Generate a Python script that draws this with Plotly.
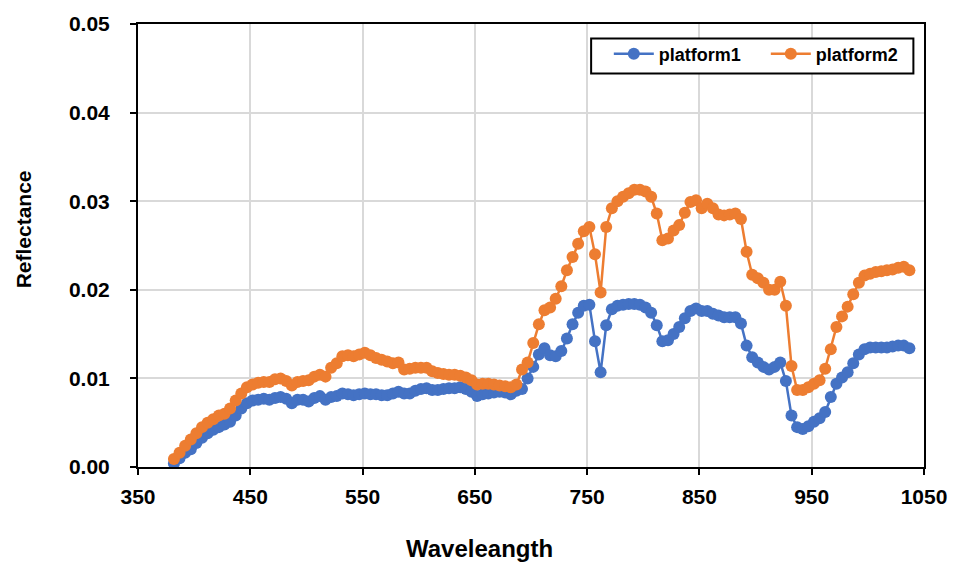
import plotly.graph_objects as go

# Wavelength sampling grid (nm), 5 nm steps
wavelength = [
    382, 387, 392, 397, 402, 407, 412, 417, 422, 427,
    432, 437, 442, 447, 452, 457, 462, 467, 472, 477,
    482, 487, 492, 497, 502, 507, 512, 517, 522, 527,
    532, 537, 542, 547, 552, 557, 562, 567, 572, 577,
    582, 587, 592, 597, 602, 607, 612, 617, 622, 627,
    632, 637, 642, 647, 652, 657, 662, 667, 672, 677,
    682, 687, 692, 697, 702, 707, 712, 717, 722, 727,
    732, 737, 742, 747, 752, 757, 762, 767, 772, 777,
    782, 787, 792, 797, 802, 807, 812, 817, 822, 827,
    832, 837, 842, 847, 852, 857, 862, 867, 872, 877,
    882, 887, 892, 897, 902, 907, 912, 917, 922, 927,
    932, 937, 942, 947, 952, 957, 962, 967, 972, 977,
    982, 987, 992, 997, 1002, 1007, 1012, 1017, 1022, 1027,
    1032, 1037,
]

platform1 = [
    0.0004, 0.0010, 0.0016, 0.0020, 0.0027, 0.0033, 0.0038, 0.0042, 0.0045, 0.0048,
    0.0051, 0.0058, 0.0066, 0.0072, 0.0075, 0.0076, 0.0077, 0.0076, 0.0078, 0.0079,
    0.0077, 0.0072, 0.0076, 0.0076, 0.0074, 0.0078, 0.0080, 0.0076, 0.0079, 0.0080,
    0.0083, 0.0082, 0.0081, 0.0082, 0.0083, 0.0082, 0.0082, 0.0081, 0.0081, 0.0083,
    0.0085, 0.0083, 0.0083, 0.0086, 0.0088, 0.0089, 0.0087, 0.0087, 0.0088, 0.0089,
    0.0089, 0.0090, 0.0088, 0.0085, 0.0080, 0.0082, 0.0083, 0.0084, 0.0085, 0.0084,
    0.0082, 0.0086, 0.0088, 0.0100, 0.0113, 0.0127, 0.0134, 0.0126, 0.0125, 0.0131,
    0.0145, 0.0161, 0.0174, 0.0182, 0.0183, 0.0142, 0.0107, 0.0160, 0.0178, 0.0182,
    0.0183, 0.0184, 0.0184, 0.0183, 0.0180, 0.0174, 0.0160, 0.0142, 0.0143, 0.0150,
    0.0158, 0.0168, 0.0176, 0.0179, 0.0176, 0.0176, 0.0173, 0.0171, 0.0169, 0.0169,
    0.0169, 0.0162, 0.0137, 0.0124, 0.0118, 0.0113, 0.0110, 0.0113, 0.0118, 0.0097,
    0.0058, 0.0045, 0.0043, 0.0046, 0.0051, 0.0055, 0.0062, 0.0079, 0.0094, 0.0101,
    0.0107, 0.0117, 0.0127, 0.0133, 0.0135, 0.0135, 0.0135, 0.0135, 0.0136, 0.0137,
    0.0137, 0.0134,
]

platform2 = [
    0.0009, 0.0016, 0.0024, 0.0031, 0.0038, 0.0045, 0.0050, 0.0054, 0.0058, 0.0060,
    0.0066, 0.0075, 0.0083, 0.0090, 0.0093, 0.0095, 0.0096, 0.0096, 0.0099, 0.0100,
    0.0097, 0.0092, 0.0096, 0.0097, 0.0098, 0.0102, 0.0104, 0.0102, 0.0112, 0.0117,
    0.0125, 0.0126, 0.0125, 0.0127, 0.0129, 0.0126, 0.0123, 0.0121, 0.0119, 0.0117,
    0.0118, 0.0110, 0.0111, 0.0112, 0.0112, 0.0112, 0.0108, 0.0106, 0.0105, 0.0104,
    0.0104, 0.0103, 0.0101, 0.0098, 0.0093, 0.0094, 0.0094, 0.0093, 0.0092, 0.0091,
    0.0090, 0.0093, 0.0110, 0.0118, 0.0140, 0.0161, 0.0177, 0.0180, 0.0190, 0.0204,
    0.0222, 0.0237, 0.0252, 0.0266, 0.0271, 0.0240, 0.0197, 0.0271, 0.0292, 0.0300,
    0.0305, 0.0309, 0.0313, 0.0313, 0.0311, 0.0305, 0.0286, 0.0256, 0.0258, 0.0267,
    0.0273, 0.0287, 0.0299, 0.0301, 0.0292, 0.0297, 0.0292, 0.0285, 0.0284, 0.0285,
    0.0286, 0.0280, 0.0243, 0.0217, 0.0213, 0.0208, 0.0200, 0.0200, 0.0209, 0.0182,
    0.0114, 0.0087, 0.0087, 0.0090, 0.0094, 0.0098, 0.0111, 0.0133, 0.0158, 0.0170,
    0.0181, 0.0195, 0.0208, 0.0216, 0.0218, 0.0220, 0.0221, 0.0222, 0.0223, 0.0225,
    0.0226, 0.0222,
]

x_ticks = [350, 450, 550, 650, 750, 850, 950, 1050]
y_ticks = [0.00, 0.01, 0.02, 0.03, 0.04, 0.05]

FONT = "Liberation Sans, Arial, sans-serif"

fig = go.Figure()
for name, values, color in [
    ("platform1", platform1, "#4472C4"),
    ("platform2", platform2, "#ED7D31"),
]:
    fig.add_trace(go.Scatter(
        x=wavelength, y=values, name=name, mode="lines+markers",
        line=dict(color=color, width=2.5),
        marker=dict(color=color, size=12),
    ))

axis_common = dict(
    showline=True, linecolor="black", linewidth=2, mirror=True,
    ticks="outside", ticklen=6, tickwidth=2, tickcolor="black",
    showgrid=True, gridcolor="#d9d9d9", gridwidth=1.5,
    zeroline=False,
    tickfont=dict(family=FONT, size=21, color="black", weight="bold"),
)

fig.update_xaxes(
    range=[350, 1050], tickvals=x_ticks, ticktext=[str(v) for v in x_ticks],
    ticklabelstandoff=4,
    **axis_common,
)
fig.update_yaxes(
    range=[0, 0.05], tickvals=y_ticks, ticktext=[f"{v:.2f}" for v in y_ticks],
    ticklabelstandoff=16,
    **axis_common,
)

# Axis titles
fig.add_annotation(
    text="<b>Waveleangth</b>", xref="paper", yref="paper",
    x=0.435, y=-0.183, xanchor="center", yanchor="middle", showarrow=False,
    font=dict(family=FONT, size=24, color="black"),
)
fig.add_annotation(
    text="<b>Reflectance</b>", xref="paper", yref="paper",
    x=-0.146, y=0.537, xanchor="center", yanchor="middle", showarrow=False,
    textangle=-90,
    font=dict(family=FONT, size=21, color="black"),
)

# Legend frame
fig.add_shape(
    type="rect", xref="paper", yref="paper",
    x0=0.5765, x1=0.9865, y0=0.888, y1=0.967,
    line=dict(color="black", width=2), fillcolor="white", layer="above",
)

fig.update_layout(
    width=959, height=564,
    margin=dict(l=138, r=30, t=20, b=97),
    paper_bgcolor="white", plot_bgcolor="white",
    showlegend=True,
    legend=dict(
        orientation="h", x=0.599, y=0.974, xanchor="left", yanchor="top",
        borderwidth=0, bgcolor="rgba(0,0,0,0)",
        font=dict(family=FONT, size=18, color="black", weight="bold"),
        itemwidth=40, entrywidth=102, entrywidthmode="pixels",
    ),
)

fig.write_html("out.html")
